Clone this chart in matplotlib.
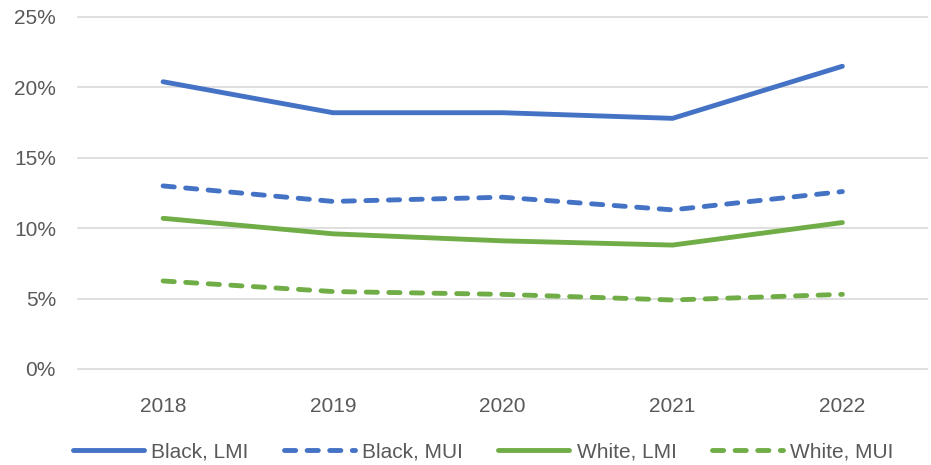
import matplotlib.pyplot as plt
from matplotlib.ticker import FuncFormatter

# data
years = ['2018', '2019', '2020', '2021', '2022']
black_lmi = [20.4, 18.2, 18.2, 17.8, 21.5]
black_mui = [13.0, 11.9, 12.2, 11.3, 12.6]
white_lmi = [10.7, 9.6, 9.1, 8.8, 10.4]
white_mui = [6.25, 5.5, 5.3, 4.9, 5.3]

blue = '#4472C4'
green = '#70AD47'

plt.rcParams['font.family'] = ['Liberation Sans', 'DejaVu Sans']

fig = plt.figure(figsize=(9.31, 4.65), dpi=100)
ax = fig.add_axes([0.084, 0.2065, 0.912, 0.757])

x = range(len(years))
lw = 3.5
dash = (2.3, 2.35)
ax.plot(x, black_lmi, color=blue, lw=lw, solid_capstyle='round', label='Black, LMI')
ax.plot(x, black_mui, color=blue, lw=lw, dashes=dash, dash_capstyle='round', label='Black, MUI')
ax.plot(x, white_lmi, color=green, lw=lw, solid_capstyle='round', label='White, LMI')
ax.plot(x, white_mui, color=green, lw=lw, dashes=dash, dash_capstyle='round', label='White, MUI')

ax.set_xlim(-0.5, len(years) - 0.5)
ax.set_ylim(0, 25)
ax.set_yticks([0, 5, 10, 15, 20, 25])
ax.yaxis.set_major_formatter(FuncFormatter(lambda v, p: '%d%%' % v))
ax.set_xticks(list(x))
ax.set_xticklabels(years)

ax.grid(axis='y', color='#D9D9D9', lw=1.2)
for gl in ax.get_ygridlines():
    gl.set_clip_on(False)
ax.set_axisbelow(True)
for s in ax.spines.values():
    s.set_visible(False)
ax.tick_params(length=0, labelsize=15, colors='#595959')
ax.tick_params(axis='y', pad=16)
ax.tick_params(axis='x', pad=20)

leg = fig.legend(loc='center', bbox_to_anchor=(0.519, 0.028), ncol=4, frameon=False,
                 fontsize=15, handlelength=3.4, handletextpad=0.35, columnspacing=1.7)
for t in leg.get_texts():
    t.set_color('#595959')

fig.savefig('out.png', dpi=100)
